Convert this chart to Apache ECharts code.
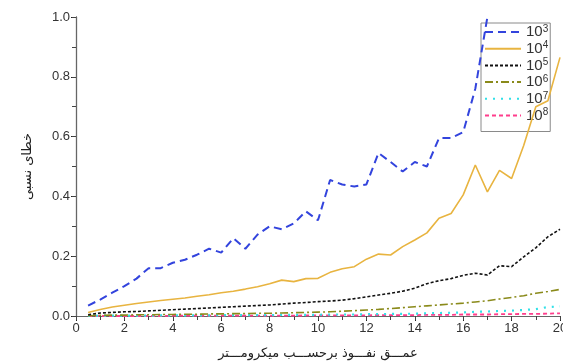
<!DOCTYPE html>
<html><head><meta charset="utf-8">
<script src="https://cdn.jsdelivr.net/npm/echarts@6/dist/echarts.min.js"></script>
<style>html,body{margin:0;padding:0;background:#fff}#c{width:563px;height:362px}</style>
</head><body><div id="c"></div>
<script>
const depths = [0.5,1,1.5,2,2.5,3,3.5,4,4.5,5,5.5,6,6.5,7,7.5,8,8.5,9,9.5,10,10.5,11,11.5,12,12.5,13,13.5,14,14.5,15,15.5,16,16.5,17,17.5,18,18.5,19,19.5,20];
const e3 = [0.035,0.055,0.078,0.100,0.125,0.160,0.160,0.178,0.188,0.205,0.225,0.212,0.260,0.225,0.272,0.300,0.290,0.310,0.350,0.320,0.455,0.440,0.433,0.440,0.545,0.515,0.483,0.515,0.500,0.595,0.595,0.615,0.760,1.000,1.150,1.250,1.350,1.450,1.550,1.650];
const e4 = [0.012,0.022,0.030,0.036,0.042,0.047,0.052,0.056,0.060,0.066,0.071,0.078,0.083,0.090,0.098,0.108,0.120,0.115,0.125,0.126,0.146,0.158,0.165,0.190,0.207,0.204,0.232,0.254,0.278,0.327,0.343,0.405,0.505,0.415,0.487,0.460,0.570,0.700,0.720,0.865];
const e5 = [0.004,0.010,0.012,0.014,0.015,0.017,0.019,0.021,0.023,0.025,0.027,0.029,0.031,0.033,0.035,0.037,0.040,0.043,0.045,0.048,0.050,0.053,0.058,0.064,0.070,0.076,0.083,0.093,0.108,0.118,0.125,0.136,0.143,0.137,0.168,0.165,0.198,0.228,0.265,0.290];
const e6 = [0.001,0.002,0.003,0.003,0.004,0.004,0.005,0.005,0.006,0.006,0.007,0.007,0.008,0.008,0.009,0.009,0.010,0.011,0.012,0.013,0.014,0.016,0.018,0.020,0.022,0.025,0.028,0.031,0.034,0.037,0.040,0.043,0.047,0.051,0.057,0.062,0.068,0.076,0.082,0.089];
const e7 = [0.000,0.001,0.001,0.001,0.001,0.001,0.002,0.002,0.002,0.002,0.002,0.003,0.003,0.003,0.003,0.003,0.004,0.004,0.004,0.004,0.005,0.005,0.005,0.006,0.006,0.007,0.007,0.008,0.009,0.010,0.011,0.012,0.014,0.015,0.017,0.018,0.020,0.023,0.030,0.032];
const e8 = [0.000,0.000,0.000,0.000,0.000,0.000,0.000,0.001,0.001,0.001,0.001,0.001,0.001,0.001,0.001,0.001,0.001,0.001,0.002,0.002,0.002,0.002,0.002,0.002,0.003,0.003,0.003,0.003,0.004,0.004,0.004,0.005,0.005,0.005,0.006,0.006,0.007,0.007,0.008,0.009];
const seriesNames = ['10^3','10^4','10^5','10^6','10^7','10^8'];
const seriesData = [e3,e4,e5,e6,e7,e8];
const colors = ['#3344dd','#e8b440','#111111','#8a8a1a','#30e0e8','#ff3d8c'];
const dashes = [[8,5],'solid',[3,2],[8,3,2,3],[2,6],[4,3]];
const widths = [2,1.6,1.6,1.6,2.2,1.8];
const xTicks = [0,2,4,6,8,10,12,14,16,18,20];
const yTicks = [0.0,0.2,0.4,0.6,0.8,1.0];

const chart = echarts.init(document.getElementById('c'));
const font = 'Liberation Sans, Arial, sans-serif';
const series = seriesNames.map((n,i)=>({
  name: n, type: 'line', symbol: 'none', clip: true,
  data: depths.map((d,j)=>[d, seriesData[i][j]]),
  lineStyle: {color: colors[i], width: widths[i], type: dashes[i]},
  itemStyle: {color: colors[i]}, z: 10 - i
}));
chart.setOption({
  animation: false,
  backgroundColor: '#fff',
  grid: {left: 76, right: 3, top: 17, bottom: 46, containLabel: false, outerBoundsMode: 'none'},
  legend: {
    orient: 'vertical', left: 481, top: 23,
    itemWidth: 36, itemHeight: 12, itemGap: 0.7,
    padding: [1, 2, 8, 3],
    borderColor: '#8a8a8a', borderWidth: 1, backgroundColor: '#fff',
    itemStyle: {opacity: 0},
    data: seriesNames,
    formatter: n => '{b|10}{s|' + n.split('^')[1] + '}',
    textStyle: {rich: {
      b: {fontFamily: font, fontSize: 15, lineHeight: 16, color: '#333'},
      s: {fontFamily: font, fontSize: 10, lineHeight: 10, padding: [0,0,6,0], color: '#333'}
    }}
  },
  xAxis: [{
    type: 'value', min: 0, max: 20, interval: 2,
    name: 'عمـــق نفـــوذ برحســـب میکرومـــتر', nameLocation: 'middle', nameGap: 31,
    nameTextStyle: {fontFamily: 'DejaVu Sans, Noto Sans, sans-serif', fontSize: 13, color: '#222'},
    axisLine: {show: true, lineStyle: {color: '#222', width: 1.2}},
    axisTick: {show: true, inside: false, length: 5, lineStyle: {color: '#222'}},
    minorTick: {show: true, splitNumber: 2, length: 3, lineStyle: {color: '#222'}},
    axisLabel: {fontFamily: font, fontSize: 13, color: '#333', margin: 6,
      formatter: v => xTicks.indexOf(v) >= 0 ? String(v) : ''},
    splitLine: {show: false}
  },{
    type: 'value', position: 'top', min: 0, max: 20, interval: 1,
    axisLine: {show: true, lineStyle: {color: '#666', width: 1}},
    axisTick: {show: true, inside: true, length: 4, lineStyle: {color: '#444'}},
    axisLabel: {show: false}, splitLine: {show: false}
  }],
  yAxis: [{
    type: 'value', min: 0, max: 1, interval: 0.2,
    name: 'خطای نسبی', nameLocation: 'middle', nameGap: 42, nameRotate: 90,
    nameTextStyle: {fontFamily: 'DejaVu Sans, Noto Sans, sans-serif', fontSize: 13, color: '#222'},
    axisLine: {show: true, lineStyle: {color: '#222', width: 1.2}},
    axisTick: {show: true, inside: false, length: 5, lineStyle: {color: '#222'}},
    minorTick: {show: true, splitNumber: 2, length: 3, lineStyle: {color: '#222'}},
    axisLabel: {fontFamily: font, fontSize: 13, color: '#333', margin: 6,
      formatter: v => yTicks.some(t => Math.abs(t - v) < 1e-9) ? v.toFixed(1) : ''},
    splitLine: {show: false}
  },{
    type: 'value', position: 'right', min: 0, max: 1, interval: 0.1,
    axisLine: {show: true, lineStyle: {color: '#666', width: 1}},
    axisTick: {show: true, inside: true, length: 4, lineStyle: {color: '#444'}},
    axisLabel: {show: false}, splitLine: {show: false}
  }],
  series: series
});
</script></body></html>
